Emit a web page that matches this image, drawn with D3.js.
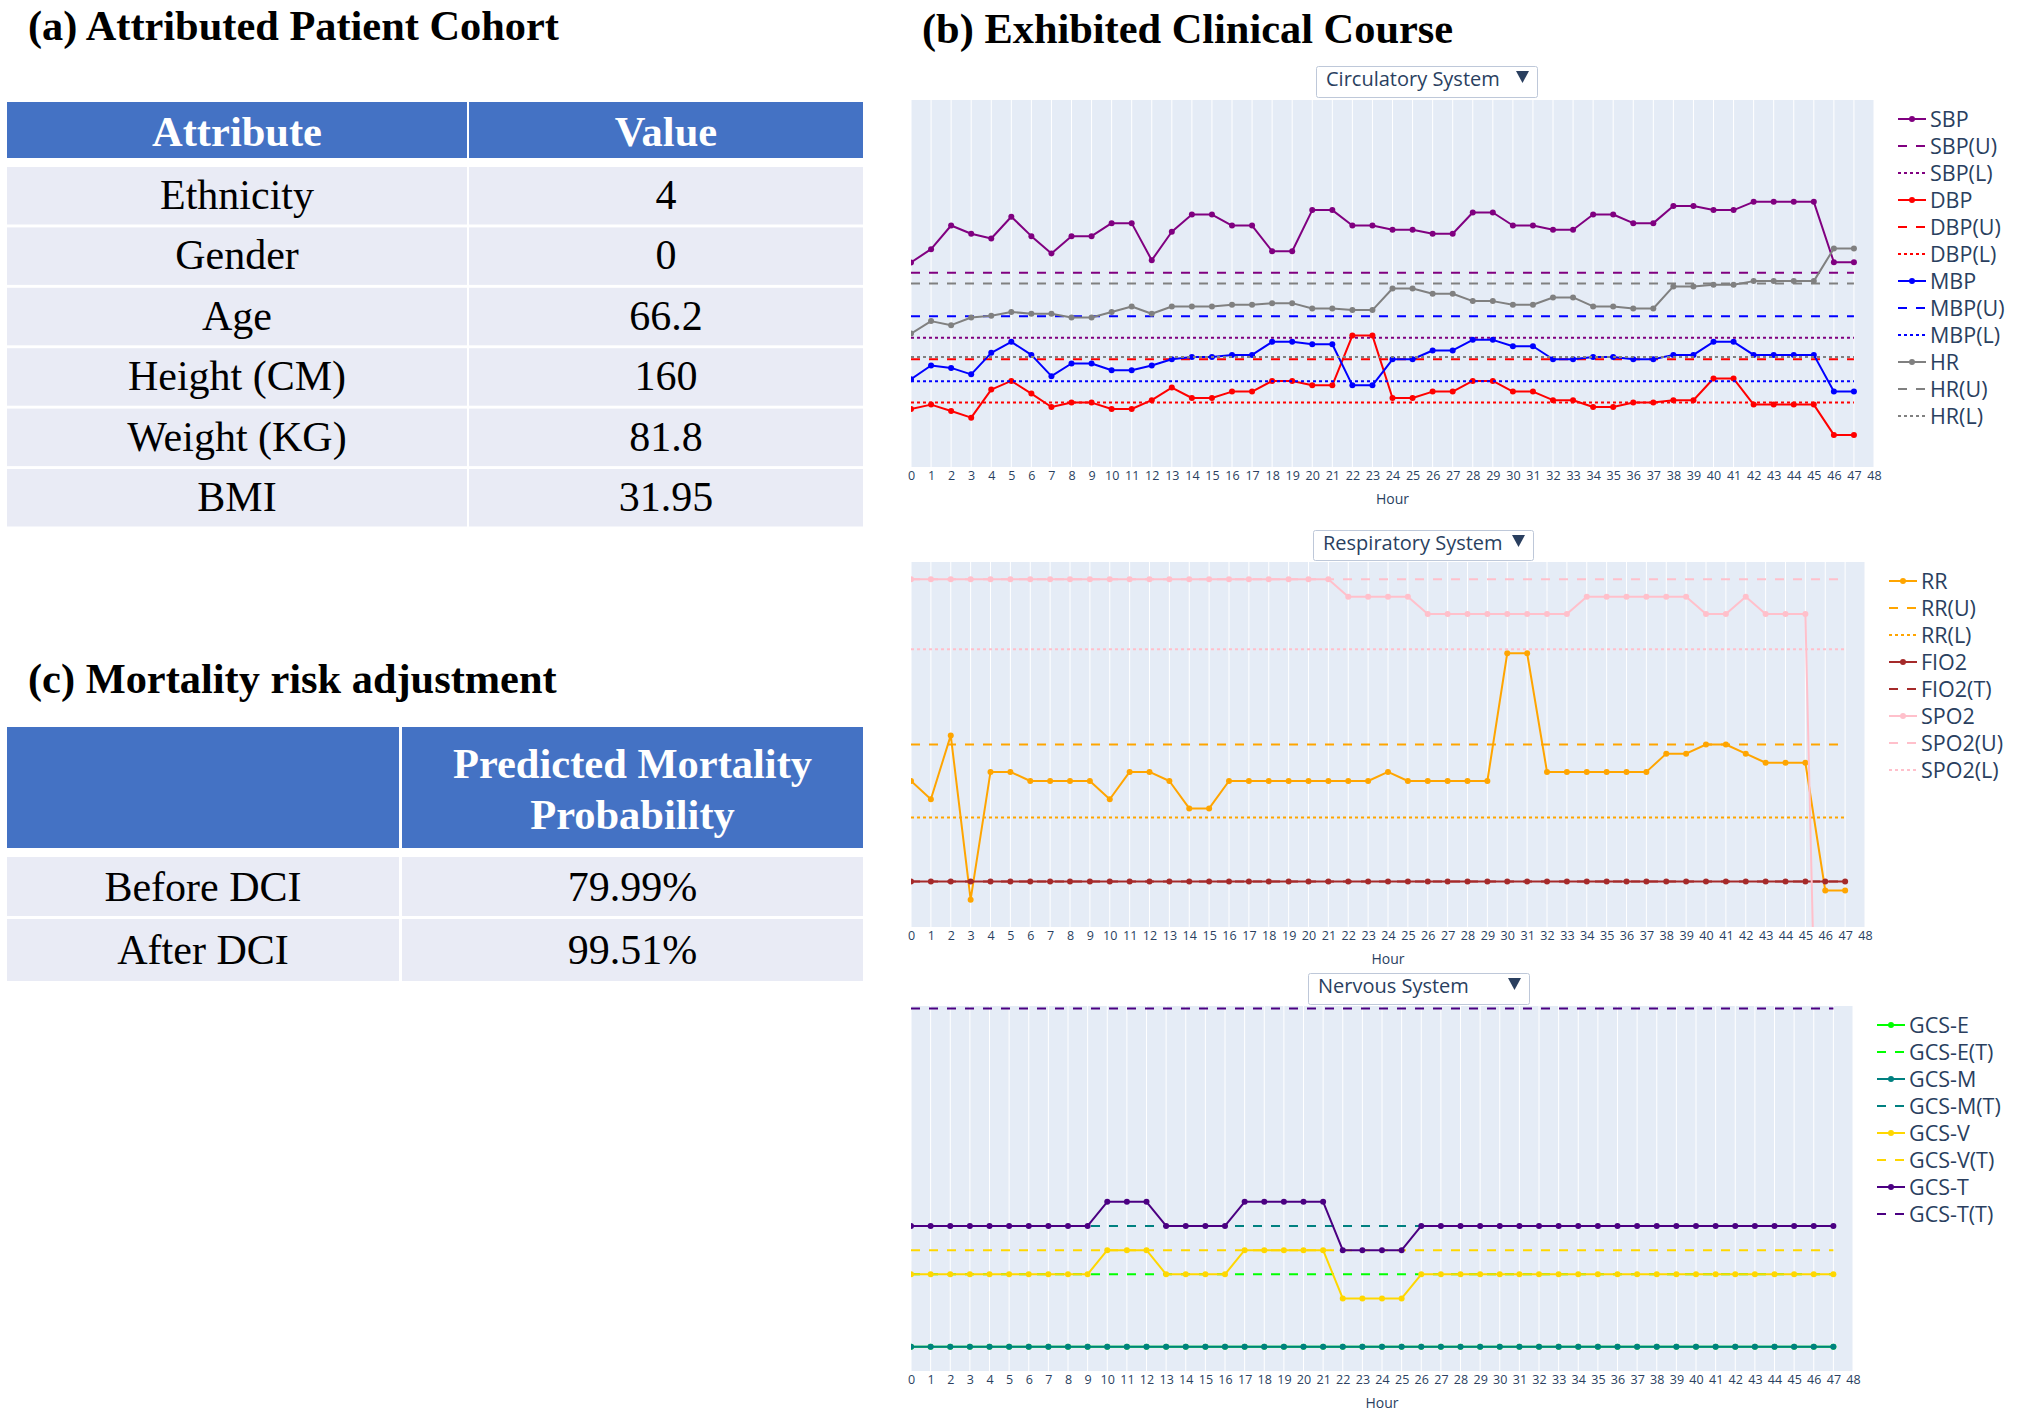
<!DOCTYPE html>
<html>
<head>
<meta charset="utf-8">
<script src="https://cdn.jsdelivr.net/npm/d3@7"></script>
<style>
  body { margin: 0; background: #fff; }
  svg { display: block; }
</style>
</head>
<body>
<svg id="fig" width="2022" height="1422"></svg>
<script>
// ---------- data ----------
const hours = d3.range(0, 48);
const hourTicks = d3.range(0, 49);

// (a) patient attributes
const attrHeader = ["Attribute", "Value"];
const attrNames = ["Ethnicity", "Gender", "Age", "Height (CM)", "Weight (KG)", "BMI"];
const attrValues = ["4", "0", "66.2", "160", "81.8", "31.95"];

// (c) mortality risk
const mortHeader = ["", "Predicted Mortality", "Probability"];
const mortLabels = ["Before DCI", "After DCI"];
const mortValues = ["79.99%", "99.51%"];

// circulatory system (plotted units)
const sbp = [111.5, 118.7, 131.6, 127.1, 124.5, 136.4, 125.8, 116.4, 125.8, 125.8,
  132.9, 132.9, 112.7, 128.2, 137.6, 137.6, 131.6, 131.6, 117.6, 117.6,
  140.0, 140.0, 131.6, 131.6, 129.3, 129.3, 127.1, 127.1, 138.7, 138.7,
  131.6, 131.6, 129.3, 129.3, 137.6, 137.6, 132.9, 132.9, 142.2, 142.2,
  140.0, 140.0, 144.5, 144.5, 144.5, 144.5, 111.6, 111.6];
const dbp = [31.6, 34.0, 30.5, 26.9, 42.2, 46.9, 40.0, 32.7, 35.1, 35.1,
  31.6, 31.6, 36.4, 43.3, 37.6, 37.6, 41.1, 41.1, 46.9, 46.9,
  44.5, 44.5, 71.6, 71.6, 37.6, 37.6, 41.1, 41.1, 46.9, 46.9,
  41.1, 41.1, 36.4, 36.4, 32.7, 32.7, 35.1, 35.1, 36.4, 36.4,
  48.2, 48.2, 34.0, 34.0, 34.0, 34.0, 17.5, 17.5];
const mbp = [47.8, 55.3, 54.0, 50.5, 62.2, 68.2, 61.1, 49.5, 56.4, 56.4,
  52.7, 52.7, 55.3, 58.7, 60.0, 60.0, 61.1, 61.1, 68.2, 68.2,
  66.9, 66.9, 44.5, 44.5, 58.7, 58.7, 63.5, 63.5, 69.3, 69.3,
  65.8, 65.8, 58.7, 58.7, 60.0, 60.0, 58.7, 58.7, 61.1, 61.1,
  68.2, 68.2, 61.1, 61.1, 61.1, 61.1, 41.1, 41.1];
const hr = [72.7, 79.5, 77.3, 81.5, 82.4, 84.5, 83.5, 83.5, 81.5, 81.5,
  84.5, 87.5, 83.5, 87.5, 87.5, 87.5, 88.4, 88.4, 89.3, 89.3,
  86.4, 86.4, 85.5, 85.5, 97.3, 97.3, 94.4, 94.4, 90.4, 90.4,
  88.4, 88.4, 92.4, 92.4, 87.5, 87.5, 86.4, 86.4, 98.4, 98.4,
  99.3, 99.3, 101.3, 101.3, 101.3, 101.3, 119.1, 119.1];
const sbpU = 105.8, sbpL = 70.4;
const dbpU = 58.7, dbpL = 35.1;
const mbpU = 82.2, mbpL = 46.7;
const hrU = 100, hrL = 60;

// respiratory system
const rr = [16, 14, 21, 3, 17, 17, 16, 16, 16, 16,
  14, 17, 17, 16, 13, 13, 16, 16, 16, 16,
  16, 16, 16, 16, 17, 16, 16, 16, 16, 16,
  30, 30, 17, 17, 17, 17, 17, 17, 19, 19,
  20, 20, 19, 18, 18, 18, 4, 4];
const fio2 = [5, 5, 5, 5, 5, 5, 5, 5, 5, 5,
  5, 5, 5, 5, 5, 5, 5, 5, 5, 5,
  5, 5, 5, 5, 5, 5, 5, 5, 5, 5,
  5, 5, 5, 5, 5, 5, 5, 5, 5, 5,
  5, 5, 5, 5, 5, 5, 5, 5];
const spo2 = [38.1, 38.1, 38.1, 38.1, 38.1, 38.1, 38.1, 38.1, 38.1, 38.1,
  38.1, 38.1, 38.1, 38.1, 38.1, 38.1, 38.1, 38.1, 38.1, 38.1,
  38.1, 38.1, 36.2, 36.2, 36.2, 36.2, 34.3, 34.3, 34.3, 34.3,
  34.3, 34.3, 34.3, 34.3, 36.2, 36.2, 36.2, 36.2, 36.2, 36.2,
  34.3, 34.3, 36.2, 34.3, 34.3, 34.3, -58, -58];
const rrU = 20, rrL = 12;
const fio2T = 5;
const spo2U = 38.1, spo2L = 30.45;

// nervous system
const gcsE = [1, 1, 1, 1, 1, 1, 1, 1, 1, 1,
  1, 1, 1, 1, 1, 1, 1, 1, 1, 1,
  1, 1, 1, 1, 1, 1, 1, 1, 1, 1,
  1, 1, 1, 1, 1, 1, 1, 1, 1, 1,
  1, 1, 1, 1, 1, 1, 1, 1];
const gcsM = [1, 1, 1, 1, 1, 1, 1, 1, 1, 1,
  1, 1, 1, 1, 1, 1, 1, 1, 1, 1,
  1, 1, 1, 1, 1, 1, 1, 1, 1, 1,
  1, 1, 1, 1, 1, 1, 1, 1, 1, 1,
  1, 1, 1, 1, 1, 1, 1, 1];
const gcsV = [4, 4, 4, 4, 4, 4, 4, 4, 4, 4,
  5, 5, 5, 4, 4, 4, 4, 5, 5, 5,
  5, 5, 3, 3, 3, 3, 4, 4, 4, 4,
  4, 4, 4, 4, 4, 4, 4, 4, 4, 4,
  4, 4, 4, 4, 4, 4, 4, 4];
const gcsT = [6, 6, 6, 6, 6, 6, 6, 6, 6, 6,
  7, 7, 7, 6, 6, 6, 6, 7, 7, 7,
  7, 7, 5, 5, 5, 5, 6, 6, 6, 6,
  6, 6, 6, 6, 6, 6, 6, 6, 6, 6,
  6, 6, 6, 6, 6, 6, 6, 6];
const gcsET = 4, gcsMT = 6, gcsVT = 5, gcsTT = 15;

// ---------- drawing ----------
const svg = d3.select("#fig");
const serif = "'Times New Roman', 'Liberation Serif', serif";
const sans = "'Open Sans', sans-serif";
const ink = "#2a3f5f";
const headBlue = "#4472C4";
const rowFill = "#E9EBF5";

function title(txt, x, y) {
  svg.append("text").attr("x", x).attr("y", y)
    .style("font-family", serif).style("font-weight", "bold").style("font-size", "42.4px")
    .text(txt);
}

title("(a) Attributed Patient Cohort", 28, 40);
title("(b) Exhibited Clinical Course", 922, 43);
title("(c) Mortality risk adjustment", 28, 693);

// table (a)
let colsA = [[7, 467], [469, 863]];
colsA.forEach(function(c, i) {
  svg.append("rect").attr("x", c[0]).attr("y", 102).attr("width", c[1] - c[0]).attr("height", 56).attr("fill", headBlue);
  svg.append("text").attr("x", (c[0] + c[1]) / 2).attr("y", 146).attr("text-anchor", "middle")
    .style("font-family", serif).style("font-weight", "bold").style("font-size", "42.5px").attr("fill", "#fff")
    .text(attrHeader[i]);
});
attrNames.forEach(function(name, r) {
  let top = 167 + r * 60.4;
  [name, attrValues[r]].forEach(function(t, i) {
    let c = colsA[i];
    svg.append("rect").attr("x", c[0]).attr("y", top).attr("width", c[1] - c[0]).attr("height", 57.5).attr("fill", rowFill);
    svg.append("text").attr("x", (c[0] + c[1]) / 2).attr("y", top + 42).attr("text-anchor", "middle")
      .style("font-family", serif).style("font-size", "42px").attr("fill", "#000")
      .text(t);
  });
});

// table (c)
let colsC = [[7, 399], [402, 863]];
colsC.forEach(function(c) {
  svg.append("rect").attr("x", c[0]).attr("y", 727).attr("width", c[1] - c[0]).attr("height", 121).attr("fill", headBlue);
});
[mortHeader[1], mortHeader[2]].forEach(function(t, k) {
  svg.append("text").attr("x", (colsC[1][0] + colsC[1][1]) / 2).attr("y", 778 + k * 51).attr("text-anchor", "middle")
    .style("font-family", serif).style("font-weight", "bold").style("font-size", "42.5px").attr("fill", "#fff")
    .text(t);
});
let rowsC = [[857, 916], [919, 981]];
mortLabels.forEach(function(lab, r) {
  [lab, mortValues[r]].forEach(function(t, i) {
    let c = colsC[i];
    svg.append("rect").attr("x", c[0]).attr("y", rowsC[r][0]).attr("width", c[1] - c[0]).attr("height", rowsC[r][1] - rowsC[r][0]).attr("fill", rowFill);
    svg.append("text").attr("x", (c[0] + c[1]) / 2).attr("y", (rowsC[r][0] + rowsC[r][1]) / 2 + 14).attr("text-anchor", "middle")
      .style("font-family", serif).style("font-size", "42px").attr("fill", "#000")
      .text(t);
  });
});

// panels (b)
const panels = [
  {
    id: "circ", menu: "Circulatory System", box: [1316, 66, 221, 31],
    left: 911, right: 1874, top: 100, bottom: 467, yDomain: [0, 200], legendY: 119,
    series: [
      {name: "SBP", values: sbp, color: "purple"},
      {name: "SBP(U)", level: sbpU, color: "purple", dash: "dash"},
      {name: "SBP(L)", level: sbpL, color: "purple", dash: "dot"},
      {name: "DBP", values: dbp, color: "red"},
      {name: "DBP(U)", level: dbpU, color: "red", dash: "dash"},
      {name: "DBP(L)", level: dbpL, color: "red", dash: "dot"},
      {name: "MBP", values: mbp, color: "blue"},
      {name: "MBP(U)", level: mbpU, color: "blue", dash: "dash"},
      {name: "MBP(L)", level: mbpL, color: "blue", dash: "dot"},
      {name: "HR", values: hr, color: "gray"},
      {name: "HR(U)", level: hrU, color: "gray", dash: "dash"},
      {name: "HR(L)", level: hrL, color: "gray", dash: "dot"}
    ]
  },
  {
    id: "resp", menu: "Respiratory System", box: [1313, 530, 220, 30],
    left: 911, right: 1865, top: 562, bottom: 927, yDomain: [0, 40], legendY: 581,
    series: [
      {name: "RR", values: rr, color: "orange"},
      {name: "RR(U)", level: rrU, color: "orange", dash: "dash"},
      {name: "RR(L)", level: rrL, color: "orange", dash: "dot"},
      {name: "FIO2", values: fio2, color: "brown"},
      {name: "FIO2(T)", level: fio2T, color: "brown", dash: "dash"},
      {name: "SPO2", values: spo2, color: "pink"},
      {name: "SPO2(U)", level: spo2U, color: "pink", dash: "dash"},
      {name: "SPO2(L)", level: spo2L, color: "pink", dash: "dot"}
    ]
  },
  {
    id: "nerv", menu: "Nervous System", box: [1308, 973, 221, 31],
    left: 911, right: 1853, top: 1006, bottom: 1371, yDomain: [0, 15.1], legendY: 1025,
    series: [
      {name: "GCS-E", values: gcsE, color: "lime"},
      {name: "GCS-E(T)", level: gcsET, color: "lime", dash: "dash"},
      {name: "GCS-M", values: gcsM, color: "teal"},
      {name: "GCS-M(T)", level: gcsMT, color: "teal", dash: "dash"},
      {name: "GCS-V", values: gcsV, color: "gold"},
      {name: "GCS-V(T)", level: gcsVT, color: "gold", dash: "dash"},
      {name: "GCS-T", values: gcsT, color: "indigo"},
      {name: "GCS-T(T)", level: gcsTT, color: "indigo", dash: "dash"}
    ]
  }
];

const dashes = {dash: "9,9", dot: "3,3"};

function drawPanel(p) {
  let x = d3.scaleLinear().domain([0, 48]).range([p.left, p.right]);
  let y = d3.scaleLinear().domain(p.yDomain).range([p.bottom, p.top]);
  let g = svg.append("g");

  g.append("rect").attr("x", p.left).attr("y", p.top)
    .attr("width", p.right - p.left).attr("height", p.bottom - p.top).attr("fill", "#E5ECF6");

  // vertical grid, one per hour
  g.selectAll("line.grid").data(hourTicks).enter().append("line")
    .attr("x1", d => x(d)).attr("x2", d => x(d))
    .attr("y1", p.top).attr("y2", p.bottom)
    .attr("stroke", "#fff").attr("stroke-width", 1);

  g.append("clipPath").attr("id", "clip-" + p.id).append("rect")
    .attr("x", p.left).attr("y", p.top).attr("width", p.right - p.left).attr("height", p.bottom - p.top);
  let plot = g.append("g").attr("clip-path", "url(#clip-" + p.id + ")");

  let line = d3.line().x(d => x(d[0])).y(d => y(d[1]));

  p.series.forEach(function(s) {
    if (s.values) {
      let pts = hours.map((h, i) => [h, s.values[i]]);
      plot.append("path").attr("d", line(pts)).attr("fill", "none")
        .attr("stroke", s.color).attr("stroke-width", 2).attr("stroke-linejoin", "round");
      plot.selectAll(null).data(pts).enter().append("circle")
        .attr("cx", d => x(d[0])).attr("cy", d => y(d[1])).attr("r", 3)
        .attr("fill", s.color);
    } else {
      let pts = [[hours[0], s.level], [hours[hours.length - 1], s.level]];
      plot.append("path").attr("d", line(pts)).attr("fill", "none")
        .attr("stroke", s.color).attr("stroke-width", 2)
        .attr("stroke-dasharray", dashes[s.dash]);
    }
  });

  // x axis
  let axis = g.append("g").attr("transform", "translate(0," + p.bottom + ")")
    .call(d3.axisBottom(x).tickValues(hourTicks).tickSize(0).tickPadding(4.5).tickFormat(d3.format("d")));
  axis.select(".domain").remove();
  axis.selectAll("text").style("font-family", sans).style("font-size", "12.5px").attr("fill", ink);

  g.append("text").attr("x", (p.left + p.right) / 2).attr("y", p.bottom + 37).attr("text-anchor", "middle")
    .style("font-family", sans).style("font-size", "14px").attr("fill", ink).text("Hour");

  // legend
  let lg = g.append("g").attr("transform", "translate(" + (p.right + 24) + "," + p.legendY + ")");
  let items = lg.selectAll("g").data(p.series).enter().append("g")
    .attr("transform", (d, i) => "translate(0," + i * 27 + ")");
  items.append("line").attr("x1", 0).attr("x2", 28).attr("y1", 0).attr("y2", 0)
    .attr("stroke", d => d.color).attr("stroke-width", 2)
    .attr("stroke-dasharray", d => d.dash ? dashes[d.dash] : null);
  items.filter(d => d.values).append("circle").attr("cx", 14).attr("cy", 0).attr("r", 3).attr("fill", d => d.color);
  items.append("text").attr("x", 32).attr("y", 0).attr("dy", "0.36em")
    .style("font-family", sans).style("font-size", "21.5px").attr("fill", ink)
    .text(d => d.name);

  // dropdown button
  let b = p.box;
  g.append("rect").attr("x", b[0] + 0.5).attr("y", b[1] + 0.5).attr("width", b[2]).attr("height", b[3])
    .attr("rx", 2).attr("fill", "#fff").attr("stroke", "#BEC8D9").attr("stroke-width", 1);
  g.append("text").attr("x", b[0] + 10).attr("y", b[1] + 20)
    .style("font-family", sans).style("font-size", "20px").attr("fill", ink).text(p.menu);
  let r = b[0] + b[2];
  g.append("path")
    .attr("d", "M" + (r - 21) + "," + (b[1] + 5) + "L" + (r - 8) + "," + (b[1] + 5) + "L" + (r - 14.5) + "," + (b[1] + 17) + "Z")
    .attr("fill", ink);
}

panels.forEach(drawPanel);
</script>
</body>
</html>
